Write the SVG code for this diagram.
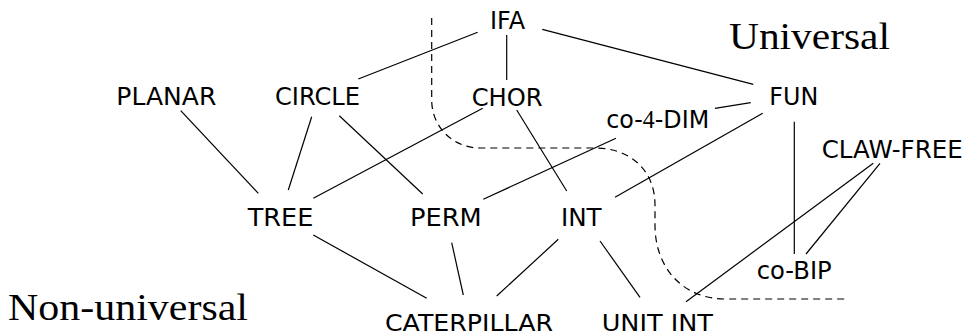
<svg xmlns="http://www.w3.org/2000/svg" width="965" height="336" viewBox="0 0 965 336">
  <style>
    .lbl { font-family: "DejaVu Sans", "Liberation Sans", sans-serif; font-size: 25px; fill: #000; text-anchor: middle; }
    .low { font-size: 23px; }
    .region { font-family: "Liberation Serif", "DejaVu Serif", serif; font-size: 38px; fill: #000; }
    .edge { stroke: #000; stroke-width: 1.2; fill: none; stroke-linecap: butt; }
    .boundary { stroke: #000; stroke-width: 1.2; fill: none; stroke-dasharray: 7 5; }
    .num { font-family: "Liberation Serif", "DejaVu Serif", serif; }
  </style>
  <rect width="965" height="336" fill="#fff"/>

  <!-- region boundary and region names -->
  <path class="boundary" d="M431.7,18 V100 C431.7,127 453,148 480,148 H595 C630,148 655,170 655,205 V225 C655,270 685,299 725,299 H848"/>
  <text class="region" x="729" y="49" textLength="161" lengthAdjust="spacingAndGlyphs">Universal</text>
  <text class="region" x="8" y="320" textLength="240" lengthAdjust="spacingAndGlyphs">Non-universal</text>

  <!-- connectors -->
  <g id="edges">
    <line class="edge" x1="477.7" y1="32.3" x2="358.3" y2="79"/>
    <line class="edge" x1="506.7" y1="35" x2="506.7" y2="80"/>
    <line class="edge" x1="542.3" y1="29.3" x2="753.3" y2="84.3"/>
    <line class="edge" x1="715" y1="108.3" x2="750.7" y2="102.7"/>
    <line class="edge" x1="762.7" y1="113.3" x2="615" y2="197.3"/>
    <line class="edge" x1="794.3" y1="121.7" x2="794.3" y2="254"/>
    <line class="edge" x1="880" y1="163.3" x2="806" y2="254"/>
    <line class="edge" x1="873.3" y1="163.3" x2="686" y2="301.7"/>
    <line class="edge" x1="616" y1="138.3" x2="483.3" y2="199.3"/>
    <line class="edge" x1="482.7" y1="108.3" x2="313.3" y2="198.3"/>
    <line class="edge" x1="516.7" y1="110" x2="566.7" y2="191"/>
    <line class="edge" x1="180.7" y1="110.7" x2="258.3" y2="193.3"/>
    <line class="edge" x1="311.7" y1="116.7" x2="288.3" y2="190"/>
    <line class="edge" x1="339.3" y1="115.7" x2="422.7" y2="194"/>
    <line class="edge" x1="313.3" y1="235" x2="426.7" y2="298.3"/>
    <line class="edge" x1="451.7" y1="242.7" x2="463.3" y2="295"/>
    <line class="edge" x1="558.3" y1="239.3" x2="496.7" y2="296"/>
    <line class="edge" x1="600" y1="241" x2="640" y2="297.3"/>
  </g>

  <!-- nodes -->
  <g id="ifa"><text class="lbl" x="507.5" y="29.3" textLength="35" lengthAdjust="spacingAndGlyphs">IFA</text></g>
  <g id="planar"><text class="lbl" x="166.3" y="105" textLength="100" lengthAdjust="spacingAndGlyphs">PLANAR</text></g>
  <g id="circle"><text class="lbl" x="317.5" y="105" textLength="85" lengthAdjust="spacingAndGlyphs">CIRCLE</text></g>
  <g id="chor"><text class="lbl" x="507.2" y="106" textLength="71" lengthAdjust="spacingAndGlyphs">CHOR</text></g>
  <g id="fun"><text class="lbl" x="793.8" y="105" textLength="49" lengthAdjust="spacingAndGlyphs">FUN</text></g>
  <g id="co4dim"><text class="lbl" x="657.7" y="128.3" textLength="103" lengthAdjust="spacingAndGlyphs">co-<tspan class="num">4</tspan>-DIM</text></g>
  <g id="clawfree"><text class="lbl" x="892.2" y="158.3" textLength="141" lengthAdjust="spacingAndGlyphs">CLAW-FREE</text></g>
  <g id="tree"><text class="lbl" x="280.5" y="226" textLength="65.6" lengthAdjust="spacingAndGlyphs">TREE</text></g>
  <g id="perm"><text class="lbl" x="445.8" y="226" textLength="71.7" lengthAdjust="spacingAndGlyphs">PERM</text></g>
  <g id="int"><text class="lbl" x="581.3" y="226" textLength="40.7" lengthAdjust="spacingAndGlyphs">INT</text></g>
  <g id="cobip"><text class="lbl" x="794.2" y="279" textLength="75" lengthAdjust="spacingAndGlyphs">co-BIP</text></g>
  <g id="caterpillar"><text class="lbl low" x="469" y="330.5" textLength="168" lengthAdjust="spacingAndGlyphs">CATERPILLAR</text></g>
  <g id="unitint"><text class="lbl low" x="657.3" y="330.5" textLength="111.3" lengthAdjust="spacingAndGlyphs">UNIT INT</text></g>
</svg>
